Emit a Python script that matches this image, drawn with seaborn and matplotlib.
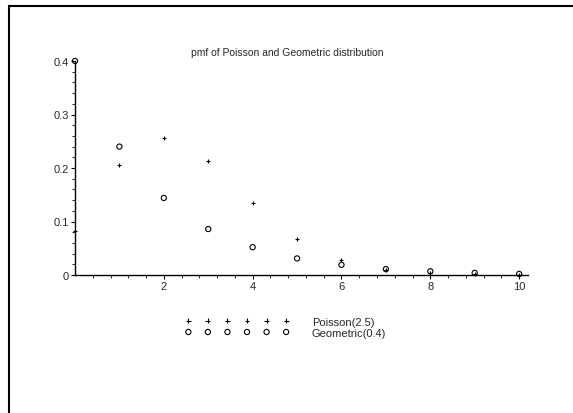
import numpy as np
import pandas as pd
import matplotlib
matplotlib.use("Agg")
import matplotlib.pyplot as plt
import matplotlib.patches as mpatches
import seaborn as sns

# --- DATA ---
k_values = [0, 1, 2, 3, 4, 5, 6, 7, 8, 9, 10]
poisson_pmf = [0.082, 0.205, 0.257, 0.214, 0.134, 0.067, 0.028, 0.010, 0.003, 0.001, 0.0002]
geometric_pmf = [0.400, 0.240, 0.144, 0.086, 0.052, 0.031, 0.019, 0.011, 0.007, 0.004, 0.002]
series_labels = ["Poisson(2.5)", "Geometric(0.4)"]
title_text = "pmf of Poisson and Geometric distribution"
x_ticks = [2, 4, 6, 8, 10]
y_ticks = [0, 0.1, 0.2, 0.3, 0.4]
y_tick_labels = ["0", "0.1", "0.2", "0.3", "0.4"]

df = pd.DataFrame({"k": k_values, "poisson": poisson_pmf, "geometric": geometric_pmf})

# --- STYLE ---
sns.set_style("white")
plt.rcParams['font.family'] = ['Liberation Sans', 'DejaVu Sans']

W, H = 573, 414
fig = plt.figure(figsize=(W / 100, H / 100), dpi=100)

# axes placed so that x=0 sits at px 75, y=0 at px 276
x0_px, x1_px = 75, 528
y0_px, y1_px = 276, 62
ax = fig.add_axes([x0_px / W, 1 - y0_px / H, (x1_px - x0_px) / W, (y0_px - y1_px) / H])

sns.scatterplot(data=df, x="k", y="poisson", marker="+", s=12, color="black",
                linewidth=0.8, label=series_labels[0], ax=ax, clip_on=False)
sns.scatterplot(data=df, x="k", y="geometric", marker="o", s=14, facecolors="none",
                edgecolor="black", linewidth=0.8, label=series_labels[1], ax=ax, clip_on=False)

ax.set_xlim(0, 10.2)
ax.set_ylim(0, 0.4)
ax.set_xlabel("")
ax.set_ylabel("")

for side in ["top", "right"]:
    ax.spines[side].set_visible(False)
for side in ["left", "bottom"]:
    ax.spines[side].set_color("black")
    ax.spines[side].set_linewidth(1.0)

ax.set_xticks(x_ticks)
ax.set_xticklabels([str(t) for t in x_ticks])
ax.set_yticks(y_ticks)
ax.set_yticklabels(y_tick_labels)
ax.set_xticks(np.arange(0.4, 10.2, 0.4), minor=True)
ax.set_yticks(np.arange(0.02, 0.4, 0.02), minor=True)
# seaborn's white style hides the ticks, switch them back on
ax.tick_params(which="both", bottom=True, left=True)
ax.tick_params(which="major", direction="out", length=3, width=0.8, color="black",
               labelsize=8, pad=1.5)
ax.tick_params(which="minor", direction="out", length=2, width=0.6, color="black")

# legend: a row of six markers per series, as in the original
ax.legend(scatterpoints=6, scatteryoffsets=[0.5], frameon=False, fontsize=8,
          handlelength=9.4, handletextpad=2.0, labelspacing=0.1,
          borderpad=0, borderaxespad=0, loc="center left",
          bbox_to_anchor=(185 / W, 1 - 328.3 / H), bbox_transform=fig.transFigure)

fig.suptitle(title_text, x=287 / W, y=1 - 52.5 / H, va="center", fontsize=7.5)

# page frame (left and top edges visible)
fig.patches.append(mpatches.Rectangle((9.3 / W, -0.5), 2.0, 0.5 + 1 - 6.7 / H,
                                      transform=fig.transFigure, fill=False,
                                      edgecolor="black", linewidth=1.5))

fig.savefig("out.png", dpi=100)
